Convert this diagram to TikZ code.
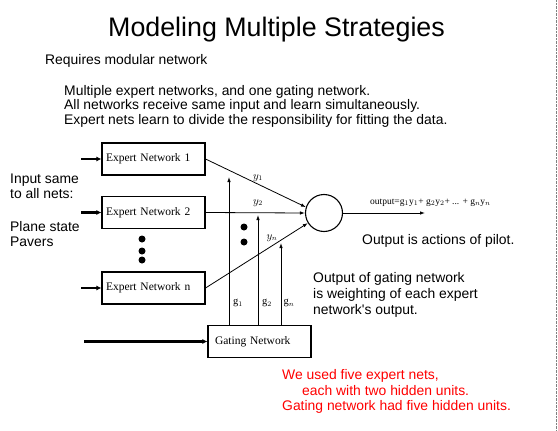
\documentclass[tikz,border=0pt]{standalone}
\usepackage{fontspec}
\setmainfont{Liberation Sans}
\newfontfamily\boxfont{Liberation Serif}
\usetikzlibrary{arrows.meta}

\begin{document}
\begin{tikzpicture}[x=1pt, y=-1pt, >={Latex[length=5pt, width=3.5pt]}, every node/.style={inner sep=0pt},
	txt/.style={anchor=base west, font=\fontsize{13.9}{15}\selectfont},
	net/.style={draw, line width=1.1pt, minimum width=103pt, minimum height=32pt, text width=95pt, inner xsep=4pt, align=left, font=\boxfont\fontsize{11.5}{13}\selectfont},
	feed/.style={->, line width=2.2pt, >={Latex[length=5pt, width=5pt]}},
	wire/.style={->, line width=0.8pt},
	lbl/.style={font=\boxfont\fontsize{10.5}{11}\selectfont},
	dot/.style={circle, fill, minimum size=7pt}]
	\useasboundingbox (0,0) rectangle (558,431);
	\draw[densely dotted, gray] (556.5,0) -- (556.5,431);
	\node[anchor=base west, font=\fontsize{26.8}{30}\selectfont] (title) at (108,37) {Modeling Multiple Strategies};
	\node[txt] (req) at (45,64) {Requires modular network};
	\node[txt] (pt1) at (64,95) {Multiple expert networks, and one gating network.};
	\node[txt] (pt2) at (64,109) {All networks receive same input and learn simultaneously.};
	\node[txt] (pt3) at (64,124) {Expert nets learn to divide the responsibility for fitting the data.};
	\node[txt] (in1) at (10,183) {Input same};
	\node[txt] (in2) at (10,198) {to all nets:};
	\node[txt] (in3) at (10,231) {Plane state};
	\node[txt] (in4) at (10,246) {Pavers};
	\node[net] (e1) at (153.5,159) {Expert Network 1};
	\node[net] (e2) at (153.5,212.5) {Expert Network 2};
	\node[net] (en) at (153.5,288) {Expert Network n};
	\node[net, text width=89pt, inner xsep=7pt] (gate) at (259.5,341.5) {Gating Network};
	\node[draw, circle, line width=1.1pt, minimum size=37pt] (sum) at (324,213) {};
	\node[dot] (d1) at (142,239) {};
	\node[dot] (d2) at (142,251) {};
	\node[dot] (d3) at (142,260) {};
	\node[dot] (d4) at (244,227) {};
	\node[dot] (d5) at (244,242) {};
	\draw[feed] ([xshift=-20pt]e1.west) -- (e1.west);
	\draw[feed] ([xshift=-20pt]e2.west) -- (e2.west);
	\draw[feed] ([xshift=-20pt]en.west) -- (en.west);
	\draw[feed] ([xshift=-123pt]gate.west) -- (gate.west);
	\draw[wire] (e1.east) -- (sum.162);
	\draw[wire] (e2.east) -- (sum.west);
	\draw[wire] (en.east) -- (sum.212);
	\coordinate (out) at (425,213);
	\draw[wire] (sum.east) -- (out);
	\coordinate (t1) at (229,177);
	\coordinate (t2) at (258,215);
	\coordinate (tn) at (281,243);
	\draw[wire] (t1 |- gate.north) -- (t1);
	\draw[wire] (t2 |- gate.north) -- (t2);
	\draw[wire] (tn |- gate.north) -- (tn);
	\node[lbl] (y1) at (258,178) {$y_1$};
	\node[lbl] (y2) at (258,203) {$y_2$};
	\node[lbl] (yn) at (272,238) {$y_n$};
	\node[lbl] (g1) at (238,303) {g$_1$};
	\node[lbl] (g2) at (267,303) {g$_2$};
	\node[lbl] (gn) at (289,303) {g$_n$};
	\node[anchor=base west, font=\boxfont\fontsize{9.5}{10}\selectfont] (formula) at (370,204) {output=g$_1$y$_1$+ g$_2$y$_2$+ ... + g$_n$y$_n$};
	\node[txt] (pilot) at (362,244) {Output is actions of pilot.};
	\node[txt] (go1) at (313,282) {Output of gating network};
	\node[txt] (go2) at (313,298) {is weighting of each expert};
	\node[txt] (go3) at (313,314) {network\textquotesingle s output.};
	\node[txt, red] (r1) at (282,379) {We used five expert nets,};
	\node[txt, red] (r2) at (302,395) {each with two hidden units.};
	\node[txt, red] (r3) at (282,410) {Gating network had five hidden units.};
\end{tikzpicture}
\end{document}
